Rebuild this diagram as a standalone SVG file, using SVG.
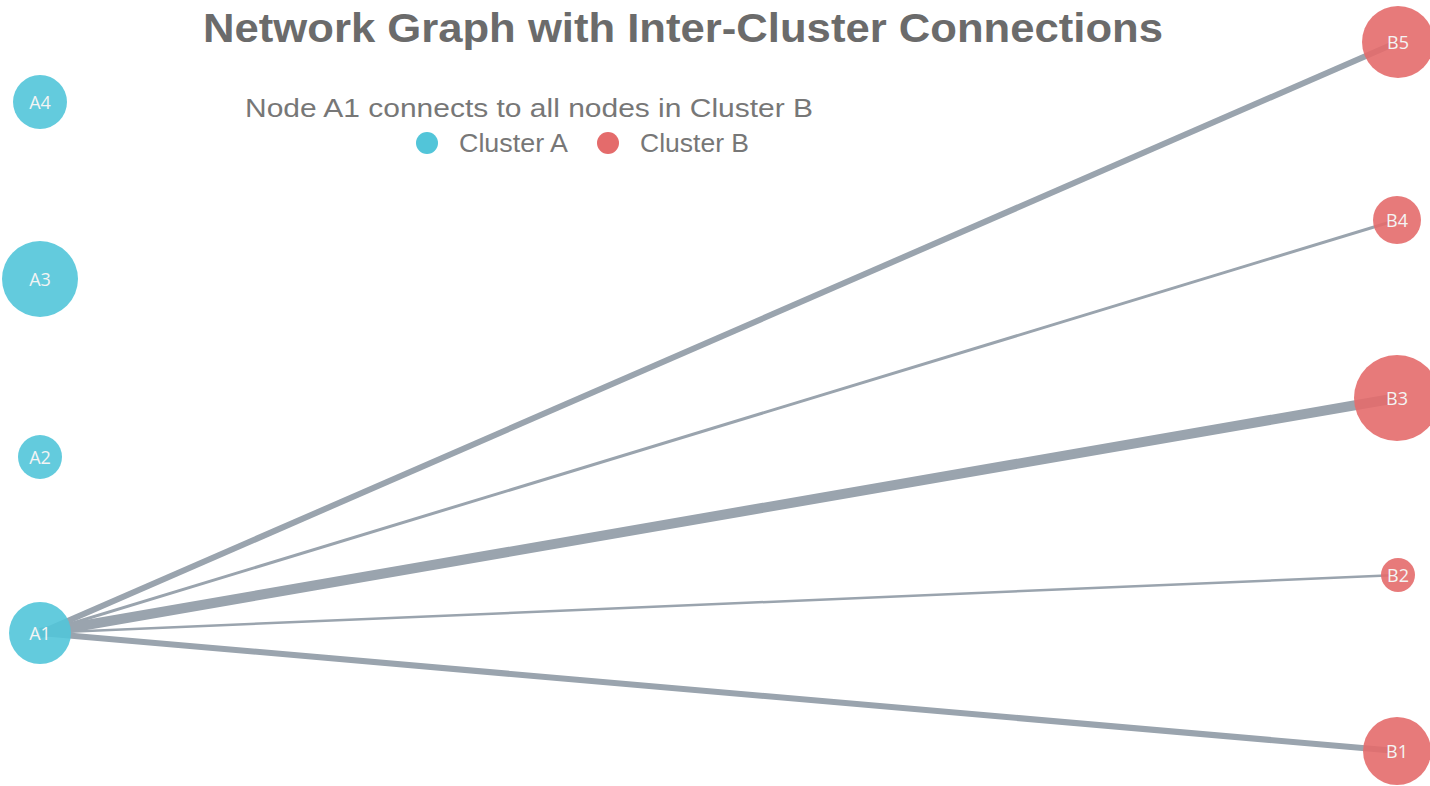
<svg xmlns="http://www.w3.org/2000/svg" width="1430" height="786" viewBox="0 0 1430 786">
<style>
.title{font-family:"Liberation Sans",Arial,sans-serif;font-weight:bold;font-size:40px;fill:#6b6b6b}
.sub{font-family:"Liberation Sans",Arial,sans-serif;font-size:26px;fill:#777}
.leg{font-family:"Liberation Sans",Arial,sans-serif;font-size:25px;fill:#777}
.edge{stroke:#9aa4ae;stroke-linecap:butt;fill:none}
.na{fill:#52c5d9;fill-opacity:0.9}
.nb{fill:#e46b6b;fill-opacity:0.9}
.lbl{font-family:"Open Sans","Noto Sans",sans-serif;font-size:18px;fill:#f4f4f4;text-anchor:middle;dominant-baseline:central}
</style>
<rect width="1430" height="786" fill="#ffffff"/>
<text class="title" x="683" y="42" text-anchor="middle" textLength="960" lengthAdjust="spacingAndGlyphs">Network Graph with Inter-Cluster Connections</text>
<text class="sub" x="245" y="117" textLength="568" lengthAdjust="spacingAndGlyphs">Node A1 connects to all nodes in Cluster B</text>
<g id="legend">
<circle cx="427" cy="143" r="11" fill="#52c5d9"/>
<text class="leg" x="459" y="152" textLength="109" lengthAdjust="spacingAndGlyphs">Cluster A</text>
<circle cx="608" cy="143" r="11" fill="#e46b6b"/>
<text class="leg" x="640" y="152" textLength="109" lengthAdjust="spacingAndGlyphs">Cluster B</text>
</g>
<g id="connectors">
<line class="edge" x1="40" y1="633" x2="1398" y2="42" stroke-width="6"/>
<line class="edge" x1="40" y1="633" x2="1397" y2="220" stroke-width="3"/>
<line class="edge" x1="40" y1="633" x2="1397" y2="398" stroke-width="10"/>
<line class="edge" x1="40" y1="633" x2="1398" y2="575" stroke-width="2.5"/>
<line class="edge" x1="40" y1="633" x2="1397" y2="751" stroke-width="6"/>
</g>
<g id="A4"><circle class="na" cx="40" cy="102" r="27"/><text class="lbl" x="40" y="102">A4</text></g>
<g id="A3"><circle class="na" cx="40" cy="279" r="38"/><text class="lbl" x="40" y="279">A3</text></g>
<g id="A2"><circle class="na" cx="40" cy="457" r="22"/><text class="lbl" x="40" y="457">A2</text></g>
<g id="A1"><circle class="na" cx="40" cy="633" r="31"/><text class="lbl" x="40" y="633">A1</text></g>
<g id="B5"><circle class="nb" cx="1398" cy="42" r="36"/><text class="lbl" x="1398" y="42">B5</text></g>
<g id="B4"><circle class="nb" cx="1397" cy="220" r="24"/><text class="lbl" x="1397" y="220">B4</text></g>
<g id="B3"><circle class="nb" cx="1397" cy="398" r="43"/><text class="lbl" x="1397" y="398">B3</text></g>
<g id="B2"><circle class="nb" cx="1398" cy="575" r="17"/><text class="lbl" x="1398" y="575">B2</text></g>
<g id="B1"><circle class="nb" cx="1397" cy="751" r="34"/><text class="lbl" x="1397" y="751">B1</text></g>
</svg>
